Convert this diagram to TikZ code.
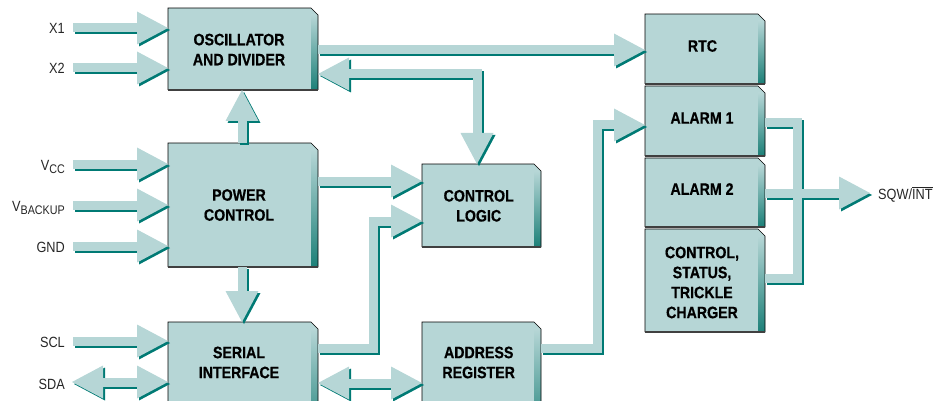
\documentclass[tikz,border=0pt]{standalone}
\usepackage{fontspec}
\setmainfont{Liberation Sans}[FakeStretch=0.86, BoldFeatures={FakeBold=0.6}]
\usetikzlibrary{arrows.meta,calc}
\definecolor{boxfill}{RGB}{182,214,214}
\definecolor{tealc}{RGB}{0,122,116}
\definecolor{stripend}{RGB}{28,128,120}
\tikzset{
  blk/.style={fill=boxfill, inner sep=0pt, outer sep=0pt},
  boxline/.style={draw=black, line width=0.6pt},
  boxbottom/.style={draw=black!75, line width=1.3pt},
  boxtext/.style={font=\fontsize{16.5}{20}\selectfont\bfseries, align=center, inner sep=0pt},
  lbl/.style={font=\fontsize{14.8}{16}\selectfont, text=black!85, inner sep=0pt, anchor=base east},
  fatlt/.style={line width=9pt, draw=boxfill},
  fatsh/.style={line width=9pt, draw=tealc, transform canvas={shift={(2pt,-2pt)}}},
  >={Triangle[width=33pt,length=31pt,line width=0pt]},
}
\newcommand\deco[1]{%
  \fill[white] ($(#1.north east)+(-7,0)$) -- ($(#1.north east)+(0.5,0)$) -- ($(#1.north east)+(0.5,7)$) -- cycle;
  \shade[top color=boxfill, bottom color=stripend] ($(#1.north east)+(-7,7)$) rectangle (#1.south east);
  \draw[boxline] (#1.south west) -- (#1.north west) -- ($(#1.north east)+(-7,0)$) -- ($(#1.north east)+(0,7)$) -- (#1.south east);
  \draw[boxbottom] (#1.south west) -- (#1.south east);
}
\newcommand\fat[2]{\draw[fatsh,#1] #2; \draw[fatlt,#1] #2;}
\begin{document}
\begin{tikzpicture}[x=1pt,y=-1pt]
\useasboundingbox (0,0) rectangle (934,401);
\clip (0,0) rectangle (934,401);
% ---- blocks
\node[blk, minimum width=150pt, minimum height=82pt]  (osc)    at (243,49) {};
\node[blk, minimum width=150pt, minimum height=124pt] (power)  at (243,205) {};
\node[blk, minimum width=150pt, minimum height=118pt] (serial) at (243,381) {};
\node[blk, minimum width=119pt, minimum height=83pt]  (cl)     at (481.5,205.5) {};
\node[blk, minimum width=119pt, minimum height=118pt] (addr)   at (481.5,381) {};
\node[blk, minimum width=120pt, minimum height=70pt]  (rtc)    at (705,49) {};
\node[blk, minimum width=120pt, minimum height=70pt]  (al1)    at (705,121) {};
\node[blk, minimum width=120pt, minimum height=69pt]  (al2)    at (705,192.5) {};
\node[blk, minimum width=120pt, minimum height=103pt] (cst)    at (705,280.5) {};
\foreach \b in {osc,power,serial,cl,addr,rtc,al1,al2,cst}{\deco{\b}}
\node[boxtext] (osct)    at (239,49.5)   {OSCILLATOR\\AND DIVIDER};
\node[boxtext] (powert)  at (239,205)    {POWER\\CONTROL};
\node[boxtext] (serialt) at (239,362.5)  {SERIAL\\INTERFACE};
\node[boxtext] (clt)     at (478.7,205.8){CONTROL\\LOGIC};
\node[boxtext] (addrt)   at (478.7,362.5){ADDRESS\\REGISTER};
\node[boxtext] (rtct)    at (702.5,46)   {RTC};
\node[boxtext] (al1t)    at (702,118)    {ALARM 1};
\node[boxtext] (al2t)    at (702,189)    {ALARM 2};
\node[boxtext] (cstt)    at (702,282.5)  {CONTROL,\\STATUS,\\TRICKLE\\CHARGER};
% ---- inputs
\coordinate (x1s)  at (73,28);
\coordinate (x2s)  at (73,68);
\coordinate (vccs) at (73,164);
\coordinate (vbks) at (73,205);
\coordinate (gnds) at (73,246);
\coordinate (scls) at (73,341);
\coordinate (sdas) at (72,382);
\node[lbl] (x1)  at ($(x1s)+(-8,6)$)  {X1};
\node[lbl] (x2)  at ($(x2s)+(-8,6)$)  {X2};
\node[lbl] (vcc) at ($(vccs)+(-8,6)$) {V\raisebox{-3pt}{\fontsize{12.5}{13}\selectfont CC}};
\node[lbl] (vbk) at ($(vbks)+(-8,6)$) {V\raisebox{-3pt}{\fontsize{12.5}{13}\selectfont BACKUP}};
\node[lbl] (gnd) at ($(gnds)+(-8,6)$) {GND};
\node[lbl] (scl) at ($(scls)+(-8,6)$) {SCL};
\node[lbl] (sda) at ($(sdas)+(-7,7)$) {SDA};
\coordinate (sqwe) at (870,193);
\node[lbl, anchor=base west] (sqw) at ($(sqwe)+(8,6)$) {SQW/$\overline{\hbox{INT}}$};
% ---- fat connectors
\fat{->}{(x1s) -- (x1s -| osc.west)}
\fat{->}{(x2s) -- (x2s -| osc.west)}
\fat{->}{(vccs) -- (vccs -| power.west)}
\fat{->}{(vbks) -- (vbks -| power.west)}
\fat{->}{(gnds) -- (gnds -| power.west)}
\fat{->}{(scls) -- (scls -| serial.west)}
\fat{<->}{(sdas) -- (sdas -| serial.west)}
\fat{->}{(osc.east |- 0,50) -- (rtc.west |- 0,50)}
\fat{<->}{(osc.east |- 0,74) -- (477,74) -- (cl.north -| 477,0)}
\fat{->}{(power.north -| 242,0) -- (osc.south -| 242,0)}
\fat{->}{(power.east |- 0,181) -- (cl.west |- 0,181)}
\fat{->}{(serial.east |- 0,348) -- (373,348) -- (373,221) -- (cl.west |- 0,221)}
\fat{->}{(power.south -| 242,0) -- (serial.north -| 242,0)}
\fat{<->}{(serial.east |- 0,383) -- (addr.west |- 0,383)}
\fat{->}{(addr.east |- 0,348) -- (597,348) -- (597,125) -- (al1.west |- 0,125)}
% alarm outputs
\draw[fatsh] (al1.east |- 0,123) -- (797,123) -- (797,278) -- (cst.east |- 0,278);
\draw[fatsh,->] (al2.east |- 0,193) -- (sqwe);
\draw[fatlt] (al1.east |- 0,123) -- (797,123) -- (797,278) -- (cst.east |- 0,278);
\draw[fatlt,->] (al2.east |- 0,193) -- (sqwe);
\end{tikzpicture}
\end{document}
